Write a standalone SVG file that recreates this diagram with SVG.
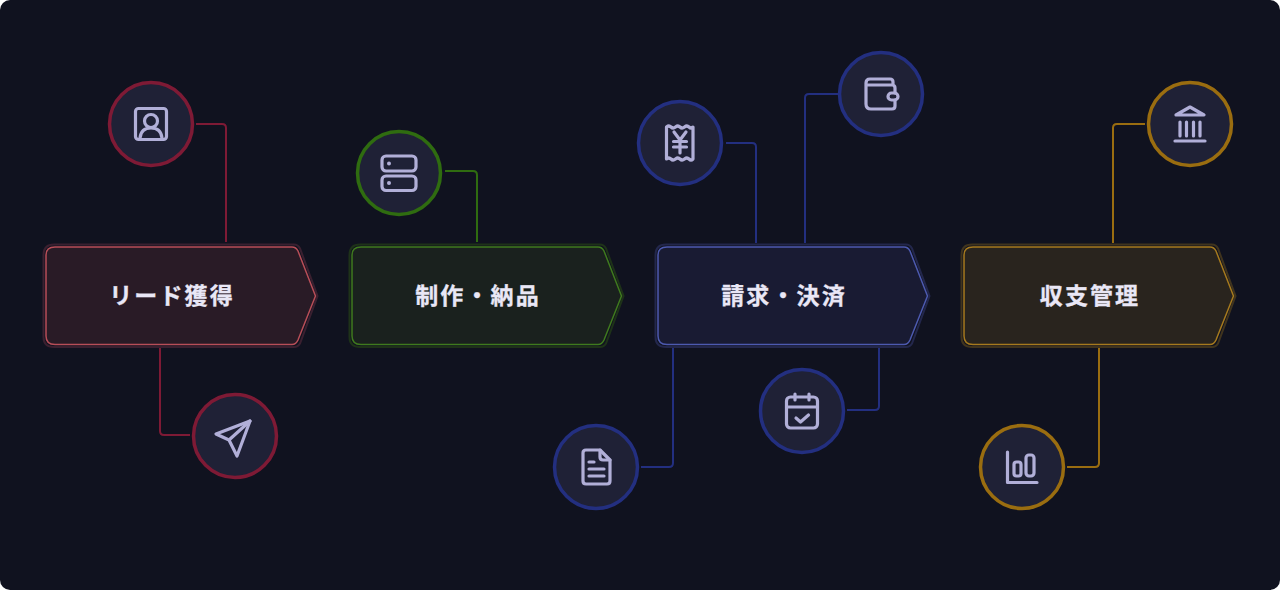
<svg xmlns="http://www.w3.org/2000/svg" width="1280" height="590" viewBox="0 0 1280 590">
<style>
.bg{fill:#10121f}
.conn path{fill:none;stroke-width:2}
.outer{fill:none;stroke-width:2}
.inner{stroke-width:1.500}
.label{font-family:"Noto Sans CJK JP","Noto Sans",sans-serif;font-size:23px;font-weight:700;fill:#e9e7f6;text-anchor:middle;letter-spacing:2.100px;stroke:#e9e7f6;stroke-width:.3px}
.disc{fill:#1f2136;stroke-width:3.500}
.ico{fill:none;stroke:#b1afd8;stroke-width:3.200;stroke-linecap:round;stroke-linejoin:round}
.r{stroke:#7e1a35}.g{stroke:#2f6c10}.b{stroke:#232f80}.a{stroke:#9a6d10}
</style>
<defs>
<path id="outerShape" d="M54 244.500H294Q298 244.500 300 248.500L317.500 296L300 343.500Q298 347 294 347H54Q43.500 347 43.500 337V255Q43.500 244.500 54 244.500Z"/>
<path id="innerShape" d="M55 247H292Q296 247 298 251L315.500 296L298 340Q296 344.500 292 344.500H55Q46 344.500 46 336V255Q46 247 55 247Z"/>
</defs>
<rect class="bg" width="1280" height="590" rx="10"/>
<g id="connectors" class="conn">
<path class="r" d="M196 124H222Q226 124 226 128V242"/>
<path class="r" d="M160 347V431Q160 435 164 435H190"/>
<path class="g" d="M445 171H473Q477 171 477 175V242"/>
<path class="b" d="M726 143H752Q756 143 756 147V243"/>
<path class="b" d="M805 243V98Q805 94 809 94H838"/>
<path class="b" d="M673 347V463Q673 467 669 467H641"/>
<path class="b" d="M879 347V406Q879 410 875 410H847"/>
<path class="a" d="M1113 243V128Q1113 124 1117 124H1145"/>
<path class="a" d="M1099 347V463Q1099 467 1095 467H1067"/>
</g>
<g id="stage-lead">
<use href="#outerShape" class="outer" stroke="#3a2030"/>
<use href="#innerShape" class="inner" fill="#291b26" stroke="#b84e58"/>
<text class="label" x="172" y="304">リード獲得</text>
</g>
<g id="stage-production" transform="translate(306 0)">
<use href="#outerShape" class="outer" stroke="#1e3219"/>
<use href="#innerShape" class="inner" fill="#1a211e" stroke="#3f7a1e"/>
<text class="label" x="172" y="304">制作・納品</text>
</g>
<g id="stage-billing" transform="translate(612 0)">
<use href="#outerShape" class="outer" stroke="#23274c"/>
<use href="#innerShape" class="inner" fill="#191b33" stroke="#4d5ab0"/>
<text class="label" x="172" y="304">請求・決済</text>
</g>
<g id="stage-finance" transform="translate(918 0)">
<use href="#outerShape" class="outer" stroke="#40341e"/>
<use href="#innerShape" class="inner" fill="#29241e" stroke="#a67a1e"/>
<text class="label" x="172" y="304">収支管理</text>
</g>
<g id="node-contact"><circle class="disc r" cx="151" cy="124" r="41.500"/>
<g class="ico"><rect x="135.500" y="108.500" width="31" height="31" rx="3"/><circle cx="151" cy="121" r="6.500"/><path d="M140 138Q141 128 151 128Q161 128 162 138"/></g></g>
<g id="node-send"><circle class="disc r" cx="235" cy="436" r="41.500"/>
<g class="ico"><path d="M250 421L216 434L229 440L237 456Z"/><path d="M250 421L229 440"/></g></g>
<g id="node-server"><circle class="disc g" cx="399" cy="173" r="41.500"/>
<g class="ico"><rect x="382" y="156" width="34" height="15" rx="4"/><rect x="382" y="176" width="34" height="14.500" rx="4"/></g>
<circle cx="389" cy="163.500" r="2" fill="#b1afd8"/><circle cx="389" cy="183" r="2" fill="#b1afd8"/></g>
<g id="node-receipt"><circle class="disc b" cx="680" cy="143" r="41.500"/>
<g class="ico" stroke-linecap="butt"><path d="M666.500 127V159Q669 157 671 159T675.500 159T680 159T684.500 159T689 159T693 159V127Q691 129 689 127T684.500 127T680 127T675.500 127T671 127T666.500 127Z"/><path d="M674 132L680 140L686 132M680 140V153M673.500 141.500H686.500M673.500 147H686.500"/></g></g>
<g id="node-wallet"><circle class="disc b" cx="881" cy="94" r="41.500"/>
<g class="ico"><path d="M866 85V104Q866 109 871 109H892Q895 109 895 106V100M895 93V88Q895 85 892 85H866M866 85V83Q866 79 870 79H890Q893 79 893 82V85"/><rect x="888" y="93" width="10" height="7" rx="3.500"/></g></g>
<g id="node-document"><circle class="disc b" cx="596" cy="467" r="41.500"/>
<g class="ico"><path d="M586 450H600L610 460V481Q610 484 607 484H586Q583 484 583 481V453Q583 450 586 450Z"/><path d="M600 450V457Q600 460 603 460H610"/><path d="M589 462H594M589 469H604M589 476H604"/></g></g>
<g id="node-calendar"><circle class="disc b" cx="802" cy="411" r="41.500"/>
<g class="ico"><rect x="786.500" y="397" width="31" height="31" rx="4"/><path d="M786.500 407H817.500M795 394V400M809 394V400"/><path d="M796 418L800.500 422L808.500 415"/></g></g>
<g id="node-bank"><circle class="disc a" cx="1190" cy="124" r="41.500"/>
<g class="ico"><path d="M1176 115L1190 107L1204 115Z"/><path d="M1180 122V136M1186.500 122V136M1193.500 122V136M1200 122V136M1175 141H1205"/></g></g>
<g id="node-chart"><circle class="disc a" cx="1022" cy="467" r="41.500"/>
<g class="ico"><path d="M1007.500 452V482.500H1037"/><rect x="1014" y="462" width="7" height="14" rx="2.500"/><rect x="1026" y="455" width="8" height="21" rx="3"/></g></g>
</svg>
